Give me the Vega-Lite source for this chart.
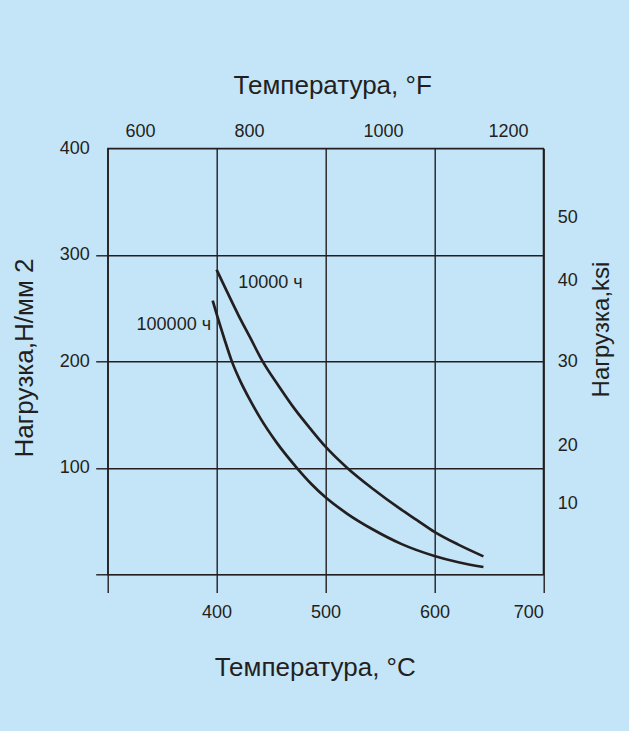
{
  "$schema": "https://vega.github.io/schema/vega-lite/v6.json",
  "width": 435.6,
  "height": 426.2,
  "autosize": "none",
  "padding": {"left": 107.7, "top": 148.3, "right": 85.7, "bottom": 156.5},
  "background": "#c4e5f8",
  "config": {
    "font": "Liberation Sans",
    "view": {"stroke": "#231f20", "strokeWidth": 1.4},
    "axis": {
      "labelFont": "Liberation Sans",
      "titleFont": "Liberation Sans",
      "labelColor": "#231f20",
      "titleColor": "#231f20",
      "labelFontSize": 18,
      "titleFontSize": 26,
      "titleFontWeight": "normal",
      "domain": false,
      "gridColor": "#231f20",
      "gridOpacity": 1,
      "gridWidth": 1.4,
      "tickColor": "#231f20",
      "tickWidth": 1.4
    }
  },
  "datasets": {
    "curves": [
      {"series": "10000 ч", "t": 400, "s": 286},
      {"series": "10000 ч", "t": 410, "s": 264.5},
      {"series": "10000 ч", "t": 420, "s": 243.5},
      {"series": "10000 ч", "t": 431, "s": 222},
      {"series": "10000 ч", "t": 442, "s": 200.5},
      {"series": "10000 ч", "t": 457, "s": 177},
      {"series": "10000 ч", "t": 472, "s": 155},
      {"series": "10000 ч", "t": 486, "s": 137},
      {"series": "10000 ч", "t": 500, "s": 120},
      {"series": "10000 ч", "t": 520, "s": 100},
      {"series": "10000 ч", "t": 544, "s": 80},
      {"series": "10000 ч", "t": 568, "s": 62},
      {"series": "10000 ч", "t": 584, "s": 51},
      {"series": "10000 ч", "t": 600, "s": 40},
      {"series": "10000 ч", "t": 622, "s": 28},
      {"series": "10000 ч", "t": 645, "s": 17},
      {"series": "100000 ч", "t": 396.4, "s": 257},
      {"series": "100000 ч", "t": 400, "s": 244.5},
      {"series": "100000 ч", "t": 407, "s": 221.5},
      {"series": "100000 ч", "t": 414, "s": 200},
      {"series": "100000 ч", "t": 422, "s": 181},
      {"series": "100000 ч", "t": 430, "s": 165},
      {"series": "100000 ч", "t": 440, "s": 147},
      {"series": "100000 ч", "t": 455, "s": 124},
      {"series": "100000 ч", "t": 474, "s": 99.7},
      {"series": "100000 ч", "t": 487, "s": 85},
      {"series": "100000 ч", "t": 500, "s": 72.5},
      {"series": "100000 ч", "t": 520, "s": 57},
      {"series": "100000 ч", "t": 544, "s": 42},
      {"series": "100000 ч", "t": 570, "s": 28.5},
      {"series": "100000 ч", "t": 600, "s": 17.4},
      {"series": "100000 ч", "t": 622, "s": 11.5},
      {"series": "100000 ч", "t": 645, "s": 7}
    ],
    "labels": [
      {"label": "10000 ч", "t": 449.5, "s": 274},
      {"label": "100000 ч", "t": 360.7, "s": 234}
    ]
  },
  "layer": [
    {
      "data": {"name": "curves"},
      "mark": {"type": "line", "interpolate": "monotone", "color": "#231f20", "strokeWidth": 2.7},
      "encoding": {
        "x": {
          "field": "t", "type": "quantitative",
          "scale": {"domain": [300, 700], "nice": false, "zero": false},
          "axis": {
            "orient": "bottom",
            "values": [300, 400, 500, 600, 700],
            "grid": true,
            "ticks": true,
            "tickSize": 18,
            "labelPadding": 24.5,
            "labelBaseline": "alphabetic",
            "labelExpr": "datum.value == 300 ? '' : datum.label",
            "title": "Температура, °C",
            "titleX": 207,
            "titleY": 101.2,
            "titleAlign": "center",
            "titleBaseline": "alphabetic"
          }
        },
        "y": {
          "field": "s", "type": "quantitative",
          "scale": {"domain": [0, 400], "nice": false, "zero": true},
          "axis": {
            "orient": "left",
            "values": [0, 100, 200, 300, 400],
            "grid": true,
            "ticks": true,
            "tickSize": 12,
            "tickOpacity": {"condition": {"test": "datum.value == 400", "value": 0}, "value": 1},
            "labelPadding": 6.4,
            "labelExpr": "datum.value == 0 ? '' : datum.label",
            "title": "Нагрузка,Н/мм 2",
            "titleAngle": -90,
            "titleX": -75.5,
            "titleY": 209.2,
            "titleAlign": "center",
            "titleBaseline": "alphabetic"
          }
        },
        "detail": {"field": "series"}
      }
    },
    {
      "data": {"name": "labels"},
      "mark": {"type": "text", "font": "Liberation Sans", "fontSize": 18, "color": "#231f20", "align": "center", "baseline": "middle"},
      "encoding": {
        "x": {
          "field": "t", "type": "quantitative",
          "scale": {"domain": [300, 700], "nice": false, "zero": false},
          "axis": {
            "orient": "top",
            "values": [329.7, 429.7, 552.8, 667.6],
            "grid": false,
            "ticks": false,
            "labelPadding": 11.5,
            "labelBaseline": "alphabetic",
            "labelExpr": "datum.value < 400 ? '600' : datum.value < 500 ? '800' : datum.value < 600 ? '1000' : '1200'",
            "title": "Температура, °F",
            "titleX": 224.5,
            "titleY": -55,
            "titleAlign": "center",
            "titleBaseline": "alphabetic"
          }
        },
        "y": {
          "field": "s", "type": "quantitative",
          "scale": {"domain": [0, 400], "nice": false, "zero": true},
          "axis": {
            "orient": "right",
            "values": [335.2, 275.7, 199.7, 121.5, 66.2],
            "grid": false,
            "ticks": false,
            "labelPadding": 14,
            "labelExpr": "datum.value > 300 ? '50' : datum.value > 250 ? '40' : datum.value > 150 ? '30' : datum.value > 100 ? '20' : '10'",
            "title": "Нагрузка,ksi",
            "titleFontSize": 24,
            "titleAngle": -90,
            "titleX": 65,
            "titleY": 180.7,
            "titleAlign": "center",
            "titleBaseline": "alphabetic"
          }
        },
        "text": {"field": "label"}
      }
    }
  ],
  "resolve": {"axis": {"x": "independent", "y": "independent"}}
}
